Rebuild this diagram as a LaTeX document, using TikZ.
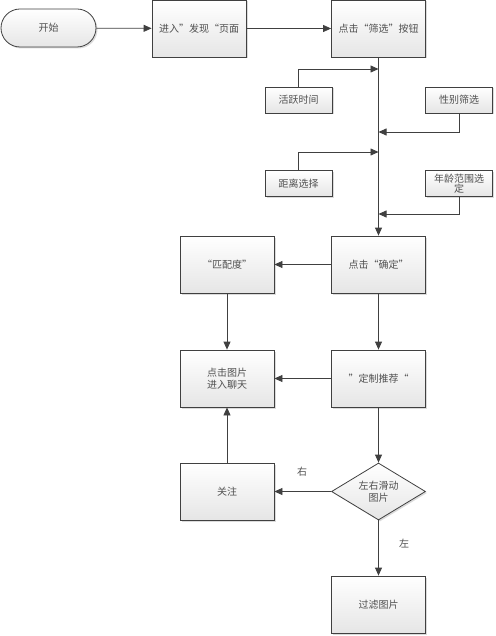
\documentclass[tikz,border=0pt]{standalone}
\usepackage{fontspec}
\setmainfont{Noto Sans CJK SC}[RawFeature=+fwid]
\usetikzlibrary{arrows.meta,shapes.geometric,shadows}
\definecolor{linec}{HTML}{404040}
\definecolor{textc}{HTML}{505050}
\begin{document}
\begin{tikzpicture}[x=1pt,y=-1pt,
  every node/.style={font=\fontsize{10}{12.5}\selectfont, text=textc},
  boxbase/.style={draw=linec, line width=0.8pt, top color=white, bottom color=black!10,
    drop shadow={shadow xshift=1.5pt, shadow yshift=-1.5pt, fill=black!35, opacity=0.4},
    inner sep=1pt, align=center},
  bigbox/.style={boxbase, minimum width=94pt, minimum height=57pt},
  smallbox/.style={boxbase, minimum width=67pt, minimum height=26pt},
  conn/.style={draw=linec, line width=0.8pt, -{Triangle[length=8pt,width=7pt]}},
  lbl/.style={font=\fontsize{10}{12}\selectfont}
]
\useasboundingbox (0,0) rectangle (495,636);
% nodes
\node[boxbase, minimum width=95pt, minimum height=38pt, rounded corners=19pt] (start) at (48.5,28) {开始};
\node[bigbox] (enter) at (199,28.5) {进入”发现“页面};
\node[bigbox] (filter) at (378.5,28.5) {点击“筛选”按钮};
\node[smallbox] (active) at (298.5,100) {活跃时间};
\node[smallbox] (gender) at (459,100) {性别筛选};
\node[smallbox] (dist) at (298.5,183.5) {距离选择};
\node[smallbox] (age) at (459,183.5) {年龄范围选\\[-2pt]定};
\node[bigbox] (confirm) at (378.5,264.5) {点击“确定”};
\node[bigbox] (match) at (227,264.5) {“匹配度”};
\node[bigbox] (chat) at (227,378.5) {点击图片\\进入聊天};
\node[bigbox] (recom) at (378.5,378.5) {”定制推荐“};
\node[bigbox] (follow) at (227,491.5) {关注};
\node[diamond, boxbase, aspect=1.65, inner sep=0pt, minimum width=94pt, minimum height=57pt] (swipe) at (378.5,491.5) {左右滑动\\图片};
\node[bigbox] (drop) at (378.5,604.5) {过滤图片};
% junction points on trunk
\coordinate (j1) at (378.5,69);
\coordinate (j2) at (378.5,132);
\coordinate (j3) at (378.5,152);
\coordinate (j4) at (378.5,214);
% connectors
\draw[conn] (start) -- (enter);
\draw[conn] (enter) -- (filter);
\draw[conn] (filter) -- (confirm);
\draw[conn] (active.north) |- (j1);
\draw[conn] (gender.south) |- (j2);
\draw[conn] (dist.north) |- (j3);
\draw[conn] (age.south) |- (j4);
\draw[conn] (confirm) -- (match);
\draw[conn] (match) -- (chat);
\draw[conn] (confirm) -- (recom);
\draw[conn] (recom) -- (chat);
\draw[conn] (recom) -- (swipe);
\draw[conn] (swipe) -- (follow);
\draw[conn] (follow) -- (chat);
\draw[conn] (swipe) -- (drop);
\node[lbl] (lright) at (302,472) {右};
\node[lbl] (lleft) at (404,544) {左};
\end{tikzpicture}
\end{document}
